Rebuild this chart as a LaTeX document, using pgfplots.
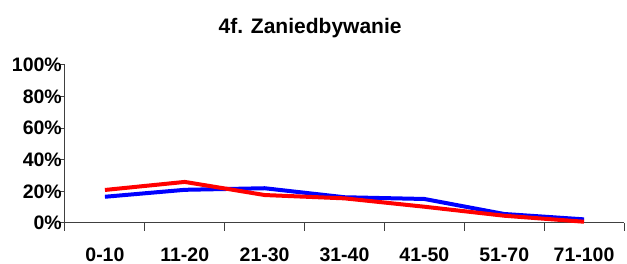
\documentclass[border=0pt]{standalone}
\usepackage{fontspec}
\setmainfont{Liberation Sans}
\usepackage{pgfplots}
\pgfplotsset{compat=1.18}
\begin{document}
\begin{tikzpicture}
\begin{axis}[
  scale only axis, width=559pt, height=158pt,
  xmin=-0.5, xmax=6.5, ymin=0, ymax=100,
  axis x line*=bottom, axis y line*=left,
  axis line style={draw=black!75, line width=1pt, -},
  xtick={0,1,2,3,4,5,6},
  xticklabels={0-10,11-20,21-30,31-40,41-50,51-70,71-100},
  minor xtick={-0.5,0.5,1.5,2.5,3.5,4.5,5.5,6.5},
  major x tick style={draw=none},
  minor x tick style={draw=black!75, line width=1pt},
  minor tick length=8pt,
  ytick={0,20,40,60,80,100},
  yticklabels={0\%,20\%,40\%,60\%,80\%,100\%},
  y tick style={draw=black!75, line width=1pt},
  major tick length=6pt,
  tick align=outside,
  tick label style={font=\fontsize{19.5}{20}\selectfont\bfseries},
  y tick label style={anchor=east, inner sep=0pt, xshift=3pt},
  x tick label style={anchor=base, inner sep=0pt, yshift=-33pt},
  title={4f. Zaniedbywanie},
  title style={at={(0.4385,1)}, anchor=base, yshift=25pt, inner sep=0pt, font=\fontsize{21}{22}\selectfont\bfseries},
  clip=false,
]
\addplot[draw={rgb,255:red,0;green,0;blue,255}, line width=4pt] coordinates {(0,16.6) (1,21) (2,22) (3,16.3) (4,15.2) (5,5.7) (6,2.3)};
\addplot[draw={rgb,255:red,255;green,0;blue,0}, line width=4pt] coordinates {(0,20.9) (1,26) (2,17.7) (3,15.6) (4,10.3) (5,4.6) (6,0.8)};
\end{axis}
\pgfresetboundingbox
\useasboundingbox (-65pt,-41pt) rectangle (562pt,223pt);
\end{tikzpicture}
\end{document}
